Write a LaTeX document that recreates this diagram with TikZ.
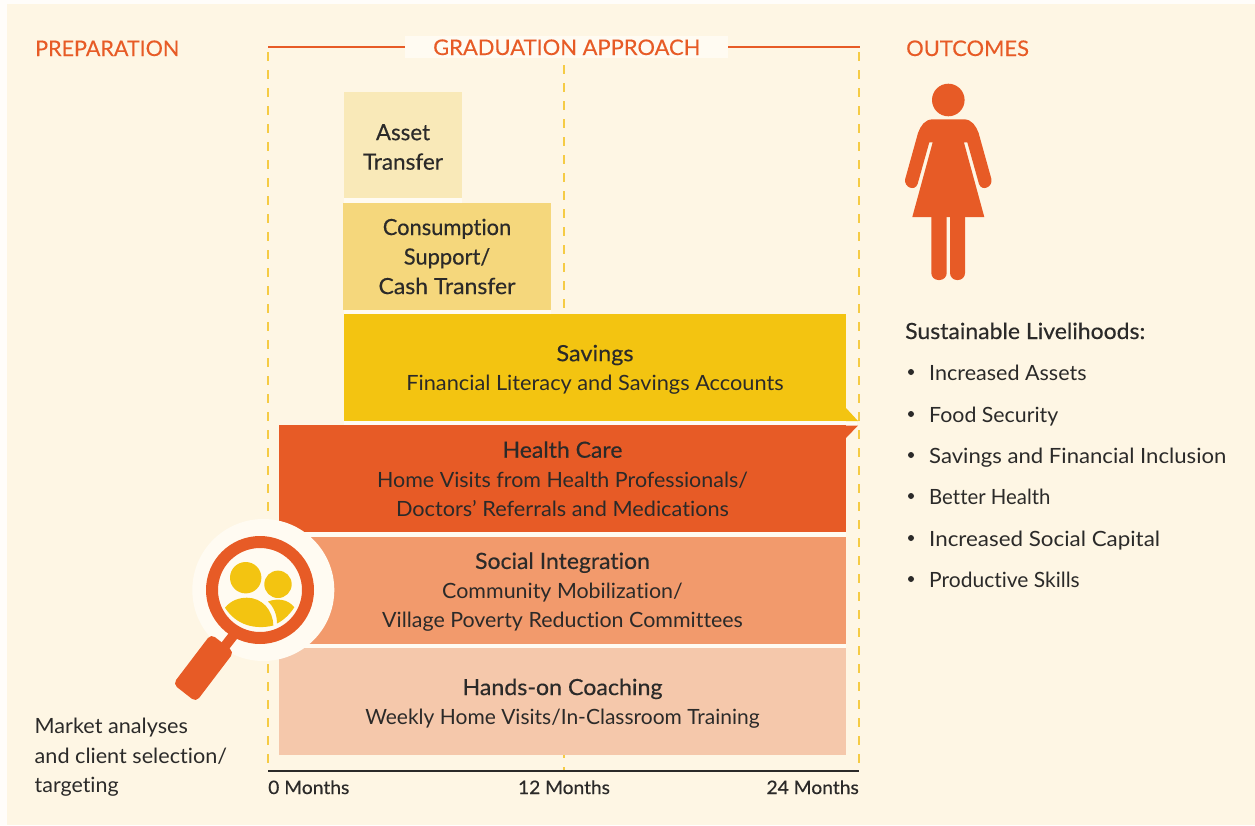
\documentclass[tikz,border=0pt]{standalone}
\usepackage{graphicx}
\usepackage{fontspec}
\setmainfont[Ligatures=NoCommon]{Lato}
\newfontfamily\med[FakeBold=0.4,Ligatures=NoCommon]{Lato}
\newfontfamily\hdfont[FakeBold=0.2,Ligatures=NoCommon]{Lato}
\definecolor{paper}{HTML}{FEF6E4}
\definecolor{pale}{HTML}{FFFBF2}
\definecolor{ink}{HTML}{2B2A29}
\definecolor{orng}{HTML}{E75B26}
\definecolor{guidecol}{HTML}{F5CB45}
\definecolor{asset}{HTML}{F9E9B8}
\definecolor{cons}{HTML}{F5D77C}
\definecolor{savg}{HTML}{F3C411}
\definecolor{soc}{HTML}{F29A6C}
\definecolor{coach}{HTML}{F5C8AB}
% horizontal fit of one line of text
\newcommand{\hs}[2]{\scalebox{#1}[1]{#2}}
% medium-weight heading line in a bar
\newcommand{\mh}[2]{\scalebox{#1}[1]{\med\fontsize{22.3}{29.5}\selectfont #2}}
\tikzset{
  x=1pt,y=-1pt,
  body/.style={font=\fontsize{21}{29.5}\selectfont,text=ink},
  bar/.style={anchor=north west,inner sep=0pt,outer sep=0pt},
  bartext/.style={body,inner sep=0pt,align=center},
  head/.style={font=\hdfont\fontsize{21.5}{26}\selectfont,text=orng,anchor=base west,inner sep=0pt},
  axlab/.style={font=\med\fontsize{18.5}{22}\selectfont,text=ink,anchor=base,inner sep=0pt},
  listitem/.style={body,anchor=base west,inner sep=0pt},
  bul/.style={circle,fill=ink,minimum size=6pt,inner sep=0pt},
  guide/.style={guidecol,line width=1.4pt,dash pattern=on 9pt off 9pt},
}
\begin{document}
\begin{tikzpicture}
\useasboundingbox (0,0) rectangle (1255,825);
\fill[white!60!pale] (0,0) rectangle (1255,825);
\fill[paper] (7,4) rectangle (1255,825);
% guides
\coordinate (gl0) at (268,52); \coordinate (gl1) at (268,771);
\coordinate (gm0) at (564,65); \coordinate (gm1) at (564,771);
\coordinate (gr0) at (859,52); \coordinate (gr1) at (859,771);
\draw[guide] (gl0) -- (gl1);
\draw[guide] (gm0) -- (gm1);
\draw[guide] (gr0) -- (gr1);
\coordinate (tl) at (268,47); \coordinate (tr) at (860,47);
\draw[orng,line width=2.6pt] (tl) -- (tr);
\node[fill=pale,anchor=north west,minimum width=323pt,minimum height=22pt,inner sep=0pt] (titlebox) at (405,36) {};
\node[head] (tgrad) at (433,55) {\hs{1.02}{GRADUATION APPROACH}};
\node[head] (tprep) at (35,56) {PREPARATION};
\node[head] (tout) at (906,56) {\hs{1.02}{OUTCOMES}};
% gaps between bars
\fill[pale] (344,198) rectangle (462,203);
\fill[pale] (344,310) rectangle (551,314);
\fill[pale] (344,421) rectangle (857,425.5);
\fill[pale] (279,532) rectangle (846,537);
\fill[pale] (279,644) rectangle (846,648);
% bars
\node[bar,fill=asset,minimum width=118pt,minimum height=106pt] (a) at (344,92) {};
\node[bartext] (at) at ([yshift=-2pt]a.center) {\mh{1.0}{Asset}\\\mh{1.01}{Transfer}};
\node[bar,fill=cons,minimum width=208pt,minimum height=107pt] (c) at (343,203) {};
\node[bartext] (ct) at (c.center) {\mh{0.98}{Consumption}\\\mh{0.98}{Support/}\\\mh{1.03}{Cash Transfer}};
\fill[savg] (846,408) -- (858,421) -- (846,421) -- cycle;
\node[bar,fill=savg,minimum width=502pt,minimum height=107pt] (s) at (344,314) {};
\node[bartext] (st) at ([yshift=-2.2pt]s.center) {\mh{1.05}{Savings}\\\hs{1.036}{Financial Literacy and Savings Accounts}};
\fill[orng] (846,438) -- (858,425.5) -- (846,425.5) -- cycle;
\node[bar,fill=orng,minimum width=567pt,minimum height=107pt] (h) at (279,425) {};
\node[bartext] (ht) at ([yshift=-0.6pt]h.center) {\mh{1.03}{Health Care}\\\hs{1.022}{Home Visits from Health Professionals/}\\\hs{1.034}{Doctors’ Referrals and Medications}};
\node[bar,fill=soc,minimum width=567pt,minimum height=107pt] (i) at (279,537) {};
\node[bar,fill=coach,minimum width=567pt,minimum height=107pt] (k) at (279,648) {};
\node[bartext] (kt) at ([yshift=-2pt]k.center) {\mh{1.04}{Hands-on Coaching}\\Weekly Home Visits/In-Classroom Training};
% magnifier
\fill[pale] (263.3,590) circle (71);
\node[bartext] (it) at ([yshift=-1.6pt]i.center) {\mh{1.03}{Social Integration}\\\hs{1.02}{Community Mobilization/}\\\hs{1.02}{Village Poverty Reduction Committees}};
\fill[orng,even odd rule] (260,590) circle (54) (260,590) circle (42);
\draw[orng,line width=10pt] (236,632) -- (222,650);
\fill[orng,rounded corners=5pt] (211,634) -- (234,652) -- (196,702) -- (173,684) -- cycle;
\fill[savg] (245.7,577.7) circle (15.7);
\fill[savg] (278,584.3) circle (13.7);
\fill[savg] (225,607.7) .. controls (231,600) and (240,597.7) .. (247,597.7) .. controls (262,597.7) and (273,610) .. (273.3,625.5) .. controls (255,630) and (236,625) .. (225,607.7) -- cycle;
\fill[savg] (268,601.5) .. controls (277,598) and (288,599) .. (294.3,607.3) .. controls (290,614) and (284,620) .. (277,623.5) .. controls (277,615) and (274,607) .. (268,601.5) -- cycle;
% person
\fill[orng] (948.3,100) circle (16.3);
\fill[orng,line join=round] (933,119.3) -- (963.6,119.3) .. controls (972,119.3) and (976,126) .. (978.6,133)
  -- (991.4,179) .. controls (993,187) and (982,192) .. (979,184) -- (967.3,142.3) -- (963.9,142.3) -- (984.3,217)
  -- (912.3,217) -- (932.7,142.3) -- (929.3,142.3) -- (917.6,184) .. controls (914.6,192) and (903.6,187) .. (905.2,179)
  -- (918,133) .. controls (920.6,126) and (924.6,119.3) .. (933,119.3) -- cycle;
\fill[orng,rounded corners=7pt] (931.3,210) -- (946.7,210) -- (946.7,280) -- (931.3,280) -- cycle;
\fill[orng,rounded corners=7pt] (950,210) -- (965,210) -- (965,280) -- (950,280) -- cycle;
% outcomes list
\node[listitem] (sl) at (905,339) {\mh{1.03}{Sustainable Livelihoods:}};
\node[bul] (b1) at (911,372) {}; \node[listitem] (l1) at (929,380) {\hs{1.025}{Increased Assets}};
\node[bul] (b2) at (911,414) {}; \node[listitem] (l2) at (929,422) {\hs{1.015}{Food Security}};
\node[bul] (b3) at (911,455) {}; \node[listitem] (l3) at (929,463) {\hs{1.053}{Savings and Financial Inclusion}};
\node[bul] (b4) at (911,496) {}; \node[listitem] (l4) at (929,504) {\hs{0.97}{Better Health}};
\node[bul] (b5) at (911,538) {}; \node[listitem] (l5) at (929,546) {\hs{1.065}{Increased Social Capital}};
\node[bul] (b6) at (911,579) {}; \node[listitem] (l6) at (929,587) {Productive Skills};
% prep text
\node[listitem] (m1) at (34.5,733) {\hs{1.03}{Market analyses}};
\node[listitem] (m2) at (34.5,763) {\hs{1.03}{and client selection/}};
\node[listitem] (m3) at (34.5,792) {\hs{1.02}{targeting}};
% axis
\draw[ink,line width=1.2pt] (gl1) -- (gr1);
\node[axlab,anchor=base west] (x0) at (268,794) {\hs{1.04}{0 Months}};
\node[axlab] (x1) at (564,794) {\hs{1.035}{12 Months}};
\node[axlab,anchor=base east] (x2) at (859,794) {\hs{1.04}{24 Months}};
\end{tikzpicture}
\end{document}
